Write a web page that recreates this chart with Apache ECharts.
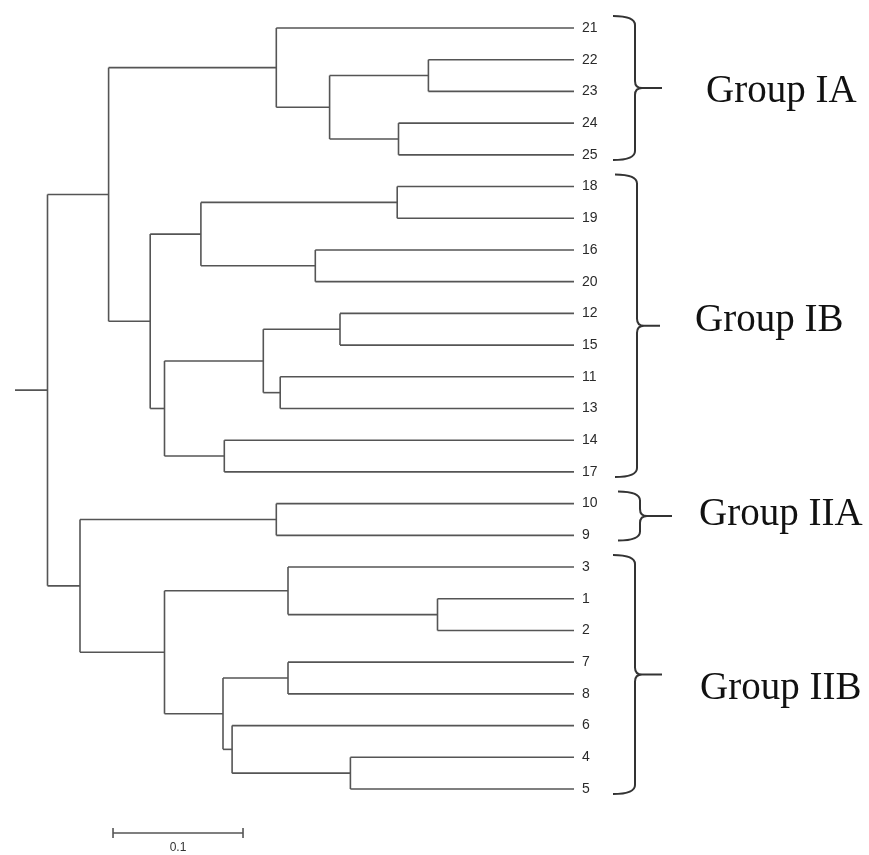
<!DOCTYPE html>
<html>
<head>
<meta charset="utf-8">
<script src="https://cdn.jsdelivr.net/npm/echarts@6/dist/echarts.min.js"></script>
<style>
html,body{margin:0;padding:0;background:#fff;}
#chart{width:869px;height:855px;}
</style>
</head>
<body>
<div id="chart"></div>
<script>
// Leaf order, top to bottom
const leaves = ['21','22','23','24','25','18','19','16','20','12','15','11','13','14','17','10','9','3','1','2','7','8','6','4','5'];

// Merges: [node id, left child, right child, node height (distance)]
const merges = [
  ['n22_23', '22', '23', 0.112],
  ['n24_25', '24', '25', 0.135],
  ['nA2', 'n22_23', 'n24_25', 0.188],
  ['IA', '21', 'nA2', 0.229],
  ['n18_19', '18', '19', 0.136],
  ['n16_20', '16', '20', 0.199],
  ['nB1', 'n18_19', 'n16_20', 0.287],
  ['n12_15', '12', '15', 0.180],
  ['n11_13', '11', '13', 0.226],
  ['nB2', 'n12_15', 'n11_13', 0.239],
  ['n14_17', '14', '17', 0.269],
  ['nB3', 'nB2', 'n14_17', 0.315],
  ['IB', 'nB1', 'nB3', 0.326],
  ['I', 'IA', 'IB', 0.358],
  ['IIA', '10', '9', 0.229],
  ['n1_2', '1', '2', 0.105],
  ['n3', '3', 'n1_2', 0.220],
  ['n7_8', '7', '8', 0.220],
  ['n4_5', '4', '5', 0.172],
  ['n6', '6', 'n4_5', 0.263],
  ['nC', 'n7_8', 'n6', 0.270],
  ['IIB', 'n3', 'nC', 0.315],
  ['II', 'IIA', 'IIB', 0.380],
  ['root', 'I', 'II', 0.405]
];
const rootStubEnd = 0.43;

// Group brackets: [label, first leaf, last leaf]
const groups = [
  ['Group IA', '21', '25'],
  ['Group IB', '18', '17'],
  ['Group IIA', '10', '9'],
  ['Group IIB', '3', '5']
];

// Scale bar
const scaleBarLength = 0.1;
const scaleBarLabel = '0.1';

// ---- layout / style (not data) ----
const groupLayout = [ // [vertical x offset, tip x offset, text dx from tip, text dy from tip]
  [61, 88, 44, 4],
  [63, 86, 35, -5],
  [66, 98, 27, -1],
  [61, 88, 38, 14]
];
const bracketPad = [-0.38, 0.16];
const scaleBarStart = 0.3546;
const scaleBarRow = 25.39;
const lineColor = '#555';

// Build segments
const pos = {};
leaves.forEach((l, i) => { pos[l] = { h: 0, y: i }; });
const segments = [];
merges.forEach(([id, a, b, h]) => {
  const A = pos[a], B = pos[b];
  const y = (A.y + B.y) / 2;
  segments.push([h, A.y, h, B.y]);
  segments.push([A.h, A.y, h, A.y]);
  segments.push([B.h, B.y, h, B.y]);
  pos[id] = { h, y };
});
const r = pos['root'];
segments.push([r.h, r.y, rootStubEnd, r.y]);

const groupData = groups.map(g => [leaves.indexOf(g[1]) + bracketPad[0], leaves.indexOf(g[2]) + bracketPad[1]]);

const chart = echarts.init(document.getElementById('chart'), null, { renderer: 'canvas' });
chart.setOption({
  animation: false,
  backgroundColor: '#fff',
  grid: { left: 2, right: 295, top: 28, bottom: 66 },
  xAxis: { type: 'value', inverse: true, min: 0, max: 0.44, show: false },
  yAxis: [
    { type: 'value', inverse: true, min: 0, max: leaves.length - 1, show: false },
    {
      type: 'category', data: leaves, inverse: true, boundaryGap: false, position: 'right',
      axisLine: { show: false }, axisTick: { show: false }, splitLine: { show: false },
      axisLabel: { margin: 8, color: '#2a2a2a', fontSize: 14, fontFamily: 'Liberation Sans, Arial, sans-serif' }
    }
  ],
  series: [
    {
      type: 'custom', name: 'tree', yAxisIndex: 0, clip: false,
      data: segments,
      encode: { x: [0, 2], y: [1, 3] },
      renderItem: (params, api) => {
        const p1 = api.coord([api.value(0), api.value(1)]);
        const p2 = api.coord([api.value(2), api.value(3)]);
        return { type: 'line', shape: { x1: p1[0], y1: p1[1], x2: p2[0], y2: p2[1] },
          style: { stroke: lineColor, lineWidth: 1.6 } };
      }
    },
    {
      type: 'custom', name: 'brackets', yAxisIndex: 0, clip: false,
      data: groupData,
      encode: { y: [0, 1] },
      renderItem: (params, api) => {
        const i = params.dataIndex;
        const L = groupLayout[i];
        const t = api.coord([0, api.value(0)]);
        const b = api.coord([0, api.value(1)]);
        const x0 = t[0];
        const y1 = t[1], y2 = b[1], ym = (y1 + y2) / 2;
        const xv = x0 + L[0], xl = xv - 22, xt = x0 + L[1], xt0 = xv + 7;
        const path = `M${xl} ${y1} Q${xv} ${y1} ${xv} ${y1 + 9} L${xv} ${ym - 7} Q${xv} ${ym} ${xt0} ${ym} L${xt} ${ym} M${xt0} ${ym} Q${xv} ${ym} ${xv} ${ym + 7} L${xv} ${y2 - 9} Q${xv} ${y2} ${xl} ${y2}`;
        return {
          type: 'group',
          children: [
            { type: 'path', shape: { pathData: path }, style: { stroke: '#333', lineWidth: 2, fill: null } },
            { type: 'text', x: xt + L[2], y: ym + L[3],
              style: { text: groups[i][0], fontSize: 39, fontFamily: 'Liberation Serif, Times New Roman, serif', fill: '#111', align: 'left', verticalAlign: 'middle' } }
          ]
        };
      }
    },
    {
      type: 'custom', name: 'scale', yAxisIndex: 0, clip: false,
      data: [[scaleBarStart, scaleBarStart - scaleBarLength, scaleBarRow]],
      encode: { x: [0, 1], y: 2 },
      renderItem: (params, api) => {
        const p1 = api.coord([api.value(0), api.value(2)]);
        const p2 = api.coord([api.value(1), api.value(2)]);
        const st = { stroke: lineColor, lineWidth: 1.6 };
        return {
          type: 'group',
          children: [
            { type: 'line', shape: { x1: p1[0], y1: p1[1], x2: p2[0], y2: p2[1] }, style: st },
            { type: 'line', shape: { x1: p1[0], y1: p1[1] - 5, x2: p1[0], y2: p1[1] + 5 }, style: st },
            { type: 'line', shape: { x1: p2[0], y1: p2[1] - 5, x2: p2[0], y2: p2[1] + 5 }, style: st },
            { type: 'text', x: (p1[0] + p2[0]) / 2, y: p1[1] + 15,
              style: { text: scaleBarLabel, fontSize: 12, fontFamily: 'Liberation Sans, Arial, sans-serif', fill: '#333', align: 'center', verticalAlign: 'middle' } }
          ]
        };
      }
    }
  ]
});
</script>
</body>
</html>
